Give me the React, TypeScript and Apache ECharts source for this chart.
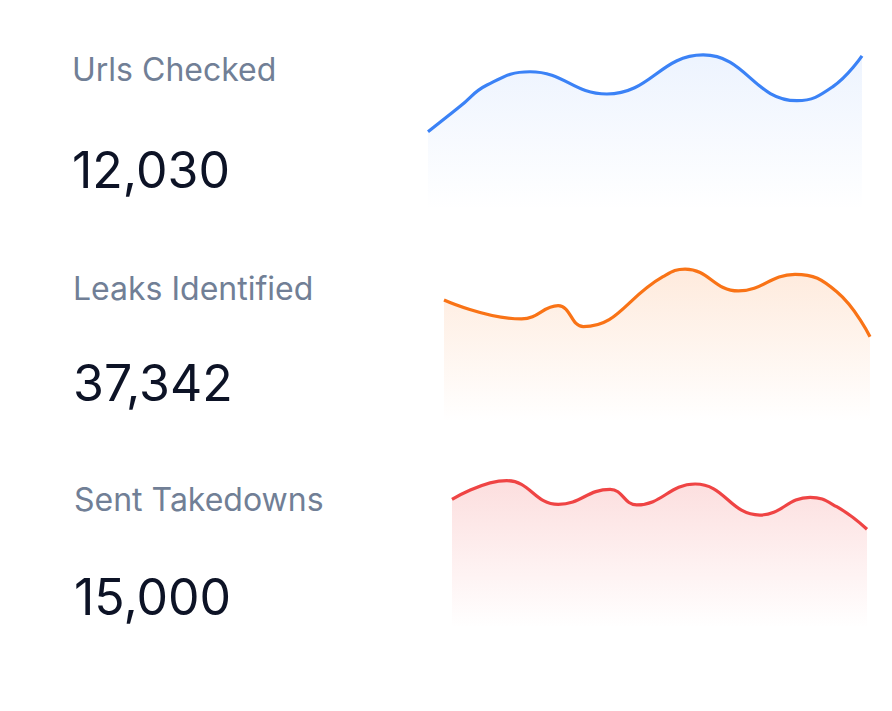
import React, { useEffect, useRef } from "react";
import * as echarts from "echarts";

const labels = ["Urls Checked", "Leaks Identified", "Sent Takedowns"];
const totals = ["12,030", "37,342", "15,000"];
const colors = ["#3b82f6", "#f97316", "#ef4444"];
const fillAlpha = [0.13, 0.21, 0.25];

const urlsX = [0, 7.4, 13.6, 23.5, 41.2, 63.4, 85.0, 93.3, 100];
const urlsY = [48.9, 64.8, 78.1, 86.4, 72.5, 96.9, 68.3, 77.1, 96.3];

const leaksX = [0, 18.2, 26.8, 32.7, 51.4, 56.6, 69.1, 82.4, 92.2, 100];
const leaksY = [76.3, 64.4, 72.7, 59.6, 90.8, 95.6, 81.9, 92.3, 81.4, 53.3];

const takedownsX = [0, 13.2, 25.6, 38.1, 44.5, 58.6, 74.2, 86.3, 92.7, 100];
const takedownsY = [80.4, 92.1, 77.3, 86.7, 76.9, 90, 70.6, 81.7, 75.8, 61.7];

const seriesX = [urlsX, leaksX, takedownsX];
const seriesY = [urlsY, leaksY, takedownsY];

const grids = [
  { left: 428, width: 434, top: 50, height: 160 },
  { left: 444, width: 426, top: 262, height: 160 },
  { left: 452, width: 415, top: 468, height: 160 },
];
const labelMid = [69.5, 288.7, 499.5];
const numberMid = [169.8, 382.5, 596.7];
const textLeft = [72, 73, 74];

function hexA(hex: string, a: number) {
  const n = parseInt(hex.slice(1), 16);
  return `rgba(${(n >> 16) & 255},${(n >> 8) & 255},${n & 255},${a})`;
}

export default function App() {
  const ref = useRef<HTMLDivElement>(null);
  useEffect(() => {
    if (!ref.current) return;
    const chart = echarts.init(ref.current, undefined, { renderer: "svg" });
    const graphic: any[] = [];
    labels.forEach((l, i) => {
      graphic.push({
        type: "text",
        x: textLeft[i],
        y: labelMid[i],
        style: {
          text: l,
          font: "400 32px Inter",
          fill: "#717f96",
          verticalAlign: "middle",
        },
      });
      graphic.push({
        type: "text",
        x: textLeft[i],
        y: numberMid[i],
        style: {
          text: totals[i],
          font: "400 50px Inter",
          fill: "#0d1326",
          verticalAlign: "middle",
        },
      });
    });
    chart.setOption({
      animation: false,
      backgroundColor: "#ffffff",
      grid: grids.map((g) => ({ ...g, containLabel: false })),
      xAxis: grids.map((_, i) => ({
        type: "value",
        gridIndex: i,
        min: 0,
        max: 100,
        show: false,
      })),
      yAxis: grids.map((_, i) => ({
        type: "value",
        gridIndex: i,
        min: 0,
        max: 100,
        show: false,
      })),
      graphic,
      series: seriesY.map((ys, i) => ({
        type: "line",
        xAxisIndex: i,
        yAxisIndex: i,
        data: ys.map((y, k) => [seriesX[i][k], y]),
        smooth: 0.45,
        symbol: "none",
        lineStyle: { color: colors[i], width: 3.2 },
        areaStyle: {
          color: new echarts.graphic.LinearGradient(0, 0, 0, 1, [
            { offset: 0, color: hexA(colors[i], fillAlpha[i]) },
            { offset: 1, color: hexA(colors[i], 0) },
          ]),
        },
      })),
    });
    return () => chart.dispose();
  }, []);
  return (
    <div
      ref={ref}
      style={{ position: "fixed", left: 0, top: 0, width: 892, height: 711 }}
    />
  );
}
